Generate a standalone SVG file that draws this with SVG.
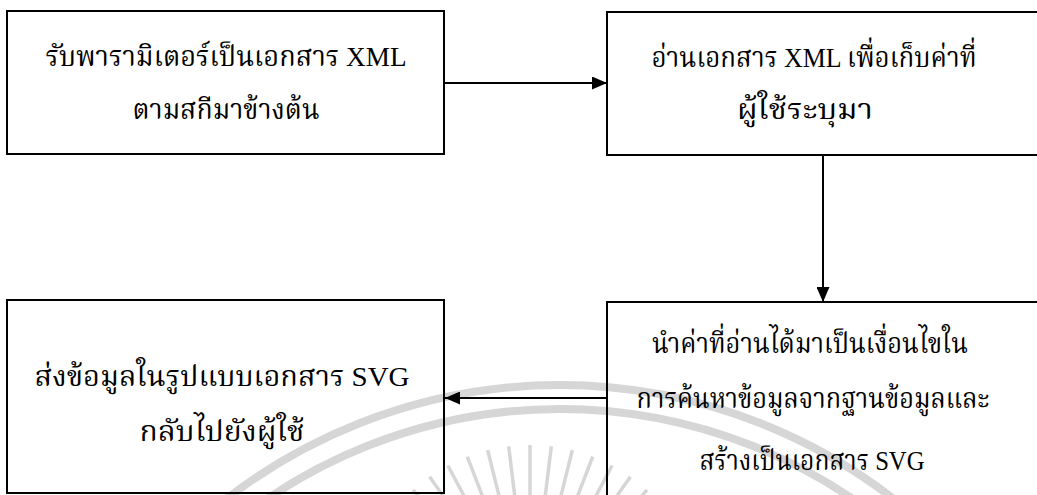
<svg xmlns="http://www.w3.org/2000/svg" width="1037" height="495" viewBox="0 0 1037 495">
  <style>
    .box { fill: none; stroke: #000; stroke-width: 2; }
    .lbl { font-family: "Liberation Serif", "Noto Serif Thai", "Noto Sans Thai", "DejaVu Serif", serif; font-size: 28px; fill: #000; text-anchor: middle; }
    .conn { stroke: #000; stroke-width: 2; fill: none; }
    .wm { stroke: #d6d6d6; fill: none; }
  </style>
  <defs>
    <marker id="arrow" viewBox="0 0 15 13" refX="15" refY="6.5" markerWidth="15" markerHeight="13" markerUnits="userSpaceOnUse" orient="auto">
      <path d="M0,0 L15,6.5 L0,13 Z" fill="#000"/>
    </marker>
  </defs>
  <rect width="1037" height="495" fill="#fff"/>

  <g id="watermark" class="wm">
    <circle cx="560" cy="930" r="545" stroke-width="8"/>
    <circle cx="560" cy="930" r="521" stroke-width="8"/>
    <g stroke-width="3.5">
      <line x1="530" y1="620" x2="530" y2="445" transform="rotate(-49 530 620)"/>
      <line x1="530" y1="620" x2="530" y2="445" transform="rotate(-42 530 620)"/>
      <line x1="530" y1="620" x2="530" y2="445" transform="rotate(-35 530 620)"/>
      <line x1="530" y1="620" x2="530" y2="445" transform="rotate(-28 530 620)"/>
      <line x1="530" y1="620" x2="530" y2="445" transform="rotate(-21 530 620)"/>
      <line x1="530" y1="620" x2="530" y2="445" transform="rotate(-14 530 620)"/>
      <line x1="530" y1="620" x2="530" y2="445" transform="rotate(-7 530 620)"/>
      <line x1="530" y1="620" x2="530" y2="445"/>
      <line x1="530" y1="620" x2="530" y2="445" transform="rotate(7 530 620)"/>
      <line x1="530" y1="620" x2="530" y2="445" transform="rotate(14 530 620)"/>
      <line x1="530" y1="620" x2="530" y2="445" transform="rotate(21 530 620)"/>
      <line x1="530" y1="620" x2="530" y2="445" transform="rotate(28 530 620)"/>
      <line x1="530" y1="620" x2="530" y2="445" transform="rotate(35 530 620)"/>
      <line x1="530" y1="620" x2="530" y2="445" transform="rotate(42 530 620)"/>
      <line x1="530" y1="620" x2="530" y2="445" transform="rotate(49 530 620)"/>
    </g>
  </g>

  <g id="connectors">
    <line class="conn" x1="444" y1="83" x2="607" y2="83" marker-end="url(#arrow)"/>
    <line class="conn" x1="823" y1="155" x2="823" y2="302" marker-end="url(#arrow)"/>
    <line class="conn" x1="607" y1="398" x2="445" y2="398" marker-end="url(#arrow)"/>
  </g>

  <g id="node-receive">
    <rect class="box" x="7" y="11" width="437" height="143"/>
    <text class="lbl" x="226" y="66" textLength="361" lengthAdjust="spacingAndGlyphs">รับพารามิเตอร์เป็นเอกสาร XML</text>
    <text class="lbl" x="226" y="119" textLength="187" lengthAdjust="spacingAndGlyphs">ตามสกีมาข้างต้น</text>
  </g>

  <g id="node-read">
    <path class="box" d="M1037,12 H607 V155 H1037"/>
    <text class="lbl" x="814" y="67" textLength="325" lengthAdjust="spacingAndGlyphs">อ่านเอกสาร XML เพื่อเก็บค่าที่</text>
    <text class="lbl" x="805" y="119" textLength="136" lengthAdjust="spacingAndGlyphs">ผู้ใช้ระบุมา</text>
  </g>

  <g id="node-query">
    <path class="box" d="M1037,302 H607 V495"/>
    <text class="lbl" x="810" y="353" textLength="316" lengthAdjust="spacingAndGlyphs">นำค่าที่อ่านได้มาเป็นเงื่อนไขใน</text>
    <text class="lbl" x="813" y="408" textLength="353" lengthAdjust="spacingAndGlyphs">การค้นหาข้อมูลจากฐานข้อมูลและ</text>
    <text class="lbl" x="812" y="470" textLength="225" lengthAdjust="spacingAndGlyphs">สร้างเป็นเอกสาร SVG</text>
  </g>

  <g id="node-send">
    <rect class="box" x="7" y="300" width="437" height="193"/>
    <text class="lbl" x="222" y="386" textLength="375" lengthAdjust="spacingAndGlyphs">ส่งข้อมูลในรูปแบบเอกสาร SVG</text>
    <text class="lbl" x="222" y="441" textLength="165" lengthAdjust="spacingAndGlyphs">กลับไปยังผู้ใช้</text>
  </g>
</svg>
